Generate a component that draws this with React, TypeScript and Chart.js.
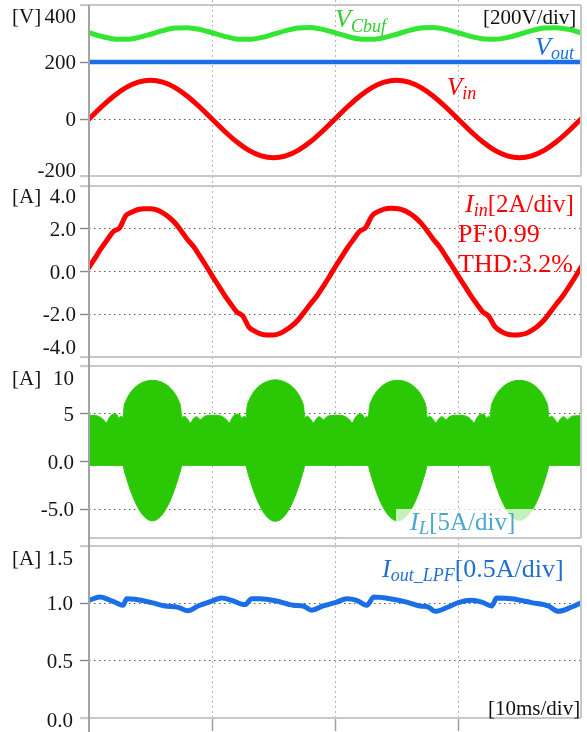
import React, { useEffect, useRef } from "react";
import { Chart, registerables } from "chart.js";

Chart.register(...registerables);

// ---------- time axis (ms) ----------
const xTicks = [0, 10, 20, 30, 40];
const t1ms = Array.from({ length: 41 }, (_, i) => i);
const tHalfMs = Array.from({ length: 81 }, (_, i) => i / 2);

// ---------- panel 1 : voltages [V] ----------
const vCbuf = [
  302.6, 289.9, 281.0, 279.4, 285.6, 297.4, 310.1, 319.0, 320.6, 314.4,
  302.6, 290.0, 281.0, 279.5, 285.5, 297.5, 310.0, 319.0, 321.0, 314.5,
  302.5, 289.8, 281.0, 279.4, 285.6, 297.4, 310.2, 319.2, 320.8, 314.4,
  302.6, 290.0, 281.2, 279.6, 285.6, 297.4, 310.0, 319.0, 320.6, 314.4,
  302.6,
];
const tVout = [0, 40];
const vOut = [200, 200];
const vIn = [
  0, 42.0, 79.9, 110.0, 129.3, 136, 129.3, 110.0, 79.9, 42.0,
  0, -42.0, -79.9, -110.0, -129.3, -136, -129.3, -110.0, -79.9, -42.0,
  0, 42.0, 79.9, 110.0, 129.3, 136, 129.3, 110.0, 79.9, 42.0,
  0, -42.0, -79.9, -110.0, -129.3, -136, -129.3, -110.0, -79.9, -42.0,
  0,
];

// ---------- panel 2 : input current [A] ----------
const iIn = [
  0.19, 0.64, 1.09, 1.5, 1.88, 2.05, 2.62, 2.78, 2.9, 2.94,
  2.94, 2.88, 2.74, 2.54, 2.27, 1.9, 1.5, 1.17, 0.73, 0.28,
  -0.19, -0.64, -1.09, -1.5, -1.88, -2.08, -2.6, -2.8, -2.93, -2.97,
  -2.97, -2.9, -2.74, -2.54, -2.27, -1.9, -1.52, -1.17, -0.73, -0.28,
  0.2, 0.65, 1.1, 1.5, 1.88, 2.06, 2.6, 2.8, 2.92, 2.96,
  2.95, 2.88, 2.74, 2.54, 2.26, 1.9, 1.5, 1.16, 0.72, 0.27,
  -0.19, -0.64, -1.09, -1.5, -1.88, -2.1, -2.58, -2.8, -2.93, -2.97,
  -2.96, -2.9, -2.75, -2.55, -2.27, -1.9, -1.52, -1.16, -0.73, -0.28,
  0.2,
];

// ---------- panel 3 : inductor current envelope [A] ----------
const tL = [
  0, 0.15, 0.85, 1.2, 1.4, 1.65, 1.95, 2.2, 2.45, 2.6,
  2.75, 2.85, 3.05, 3.35, 3.75, 4.25, 4.75, 5.15, 5.55, 6.05, 6.55, 6.95, 7.25, 7.45, 7.55,
  7.75, 8.0, 8.25, 8.5, 8.75, 9.05, 9.4, 10.15, 10.85, 11.2, 11.4, 11.65, 11.95, 12.2, 12.45, 12.6,
  12.75, 12.85, 13.05, 13.35, 13.75, 14.25, 14.75, 15.15, 15.55, 16.05, 16.55, 16.95, 17.25, 17.45, 17.55,
  17.75, 18.0, 18.25, 18.5, 18.75, 19.05, 19.4, 20.15, 20.85, 21.2, 21.4, 21.65, 21.95, 22.2, 22.42, 22.57,
  22.7, 22.8, 23.0, 23.3, 23.7, 24.2, 24.7, 25.1, 25.5, 26.0, 26.5, 26.9, 27.2, 27.4, 27.5,
  27.7, 27.95, 28.2, 28.45, 28.7, 29.0, 29.35, 30.05, 30.75, 31.1, 31.3, 31.55, 31.85, 32.1, 32.33, 32.47,
  32.6, 32.7, 32.9, 33.2, 33.6, 34.1, 34.6, 35.0, 35.4, 35.9, 36.4, 36.8, 37.1, 37.3, 37.4,
  37.6, 37.85, 38.1, 38.35, 38.6, 38.9, 39.25, 40,
];
const iLUp = [
  4.8, 4.85, 4.7, 4.35, 4.05, 4.6, 4.95, 4.95, 4.55, 4.75,
  4.6, 5.72, 6.49, 7.18, 7.77, 8.22, 8.45, 8.5, 8.45, 8.22, 7.77, 7.18, 6.49, 5.72, 4.6,
  4.75, 4.45, 4.05, 4.5, 4.7, 4.4, 4.75, 4.85, 4.7, 4.35, 4.05, 4.6, 4.95, 4.95, 4.55, 4.75,
  4.6, 5.73, 6.51, 7.21, 7.81, 8.26, 8.49, 8.55, 8.49, 8.26, 7.81, 7.21, 6.51, 5.73, 4.6,
  4.75, 4.45, 4.05, 4.5, 4.7, 4.4, 4.75, 4.85, 4.7, 4.35, 4.05, 4.6, 4.95, 4.95, 4.55, 4.75,
  4.6, 5.72, 6.49, 7.18, 7.77, 8.22, 8.45, 8.5, 8.45, 8.22, 7.77, 7.18, 6.49, 5.72, 4.6,
  4.75, 4.45, 4.05, 4.5, 4.7, 4.4, 4.75, 4.85, 4.7, 4.35, 4.05, 4.6, 4.95, 4.95, 4.55, 4.75,
  4.6, 5.72, 6.49, 7.18, 7.77, 8.22, 8.45, 8.5, 8.45, 8.22, 7.77, 7.18, 6.49, 5.72, 4.6,
  4.75, 4.45, 4.05, 4.5, 4.7, 4.4, 4.75, 4.8,
];
const iLLo = [
  -0.4, -0.4, -0.4, -0.4, -0.4, -0.4, -0.4, -0.4, -0.4, -0.4,
  -0.4, -0.88, -1.76, -2.94, -4.23, -5.38, -6.04, -6.2, -6.04, -5.38, -4.23, -2.94, -1.76, -0.88, -0.4,
  -0.4, -0.4, -0.4, -0.4, -0.4, -0.4, -0.4, -0.4, -0.4, -0.4, -0.4, -0.4, -0.4, -0.4, -0.4, -0.4,
  -0.4, -0.88, -1.77, -2.96, -4.26, -5.43, -6.09, -6.25, -6.09, -5.43, -4.26, -2.96, -1.77, -0.88, -0.4,
  -0.4, -0.4, -0.4, -0.4, -0.4, -0.4, -0.4, -0.4, -0.4, -0.4, -0.4, -0.4, -0.4, -0.4, -0.4, -0.4,
  -0.4, -0.88, -1.76, -2.94, -4.23, -5.38, -6.04, -6.2, -6.04, -5.38, -4.23, -2.94, -1.76, -0.88, -0.4,
  -0.4, -0.4, -0.4, -0.4, -0.4, -0.4, -0.4, -0.4, -0.4, -0.4, -0.4, -0.4, -0.4, -0.4, -0.4, -0.4,
  -0.4, -0.87, -1.75, -2.92, -4.2, -5.34, -5.99, -6.15, -5.99, -5.34, -4.2, -2.92, -1.75, -0.87, -0.4,
  -0.4, -0.4, -0.4, -0.4, -0.4, -0.4, -0.4, -0.4,
];

// ---------- panel 4 : filtered output current [A] ----------
const tOut = [
  0, 0.89, 1.54, 2.36, 2.76, 3.07, 3.74, 5.1, 6.18, 7.24, 8.05, 8.86, 9.98, 10.79, 11.6, 12.68,
  13.23, 13.9, 15.26, 16.59, 17.4, 18.1, 19.02, 20.14, 20.95, 21.76, 22.58, 23.17, 24.47, 25.83,
  26.91, 27.59, 28.13, 29.21, 30.02, 31.11, 31.93, 32.74, 33.15, 34.37, 35.99, 37.34, 38.15, 39.24, 40,
];
const iOut = [
  1.026, 1.055, 1.035, 0.997, 0.983, 1.04, 1.035, 1.006, 0.977, 0.965, 0.936, 0.977, 1.02, 1.046, 1.026, 0.989,
  1.04, 1.04, 1.02, 0.983, 0.977, 0.94, 0.977, 1.011, 1.04, 1.026, 0.983, 1.055, 1.04, 1.011,
  0.977, 0.968, 0.93, 0.968, 1.006, 1.026, 1.011, 0.977, 1.046, 1.04, 1.006, 0.977, 0.93, 0.968, 1.006,
];

// ---------- axis ticks / labels ----------
const p1Ticks = [-200, 0, 200, 400];
const p1Labels = ["-200", "0", "200", "400"];
const p2Ticks = [-4, -2, 0, 2, 4];
const p2Labels = ["-4.0", "-2.0", "0.0", "2.0", "4.0"];
const p3Ticks = [-5, 0, 5, 10];
const p3Labels = ["-5.0", "0.0", "5", "10"];
const p4Ticks = [0, 0.5, 1, 1.5];
const p4Labels = ["0.0", "0.5", "1.0", "1.5"];

const SERIF = '"Liberation Serif", "Times New Roman", serif';

type Part = { text: string; size: number; italic?: boolean; dy?: number };
type Txt = { parts: Part[]; x: number; y: number; color: string };
type Panel = {
  top: number;
  height: number;
  padTop: number;
  padBottom: number;
  yMin: number;
  yMax: number;
  yTicks: number[];
  yLabels: string[];
  unit: string;
  topOff: number;
  botOff: number;
  labelRight: number;
  axisTop: number;
  xTickLen: number;
  xTickSolid: boolean;
  datasets: any[];
  texts: Txt[];
  box?: { x: number; y: number; w: number; h: number };
};

const pts = (xs: number[], ys: number[]) => xs.map((x, i) => ({ x, y: ys[i] }));

const lineDs = (xs: number[], ys: number[], color: string, width: number) => ({
  data: pts(xs, ys),
  borderColor: color,
  borderWidth: width,
  pointRadius: 0,
  fill: false,
  cubicInterpolationMode: "monotone",
  borderJoinStyle: "round",
  borderCapStyle: "round",
});

const panels: Panel[] = [
  {
    top: 0, height: 181, padTop: 5, padBottom: 5,
    yMin: -200, yMax: 400, yTicks: p1Ticks, yLabels: p1Labels, unit: "[V]",
    topOff: 18, botOff: 1, labelRight: 76, axisTop: 5, xTickLen: 5, xTickSolid: false,
    datasets: [
      lineDs(t1ms, vCbuf, "#33e633", 5),
      lineDs(tVout, vOut, "#1a6ee8", 4.5),
      lineDs(t1ms, vIn, "#ff0000", 5),
    ],
    texts: [
      { x: 335, y: 27, color: "#33cc33", parts: [{ text: "V", size: 26, italic: true }, { text: "Cbuf", size: 18, italic: true, dy: 5 }] },
      { x: 483, y: 24, color: "#111111", parts: [{ text: "[200V/div]", size: 21 }] },
      { x: 535, y: 55, color: "#1a6fd8", parts: [{ text: "V", size: 26, italic: true }, { text: "out", size: 18, italic: true, dy: 4 }] },
      { x: 447, y: 95, color: "#ff0000", parts: [{ text: "V", size: 25, italic: true }, { text: "in", size: 18, italic: true, dy: 4 }] },
    ],
  },
  {
    top: 181, height: 181, padTop: 5, padBottom: 5,
    yMin: -4, yMax: 4, yTicks: p2Ticks, yLabels: p2Labels, unit: "[A]",
    topOff: 17, botOff: -3, labelRight: 76, axisTop: 0, xTickLen: 5, xTickSolid: false,
    datasets: [lineDs(tHalfMs, iIn, "#ff0000", 5)],
    texts: [
      { x: 465, y: 31, color: "#ff0000", parts: [{ text: "I", size: 26, italic: true }, { text: "in", size: 18, italic: true, dy: 4 }, { text: "[2A/div]", size: 25 }] },
      { x: 458, y: 61, color: "#ff0000", parts: [{ text: "PF:0.99", size: 26 }] },
      { x: 458, y: 91, color: "#ff0000", parts: [{ text: "THD:3.2%", size: 26 }] },
    ],
  },
  {
    top: 362, height: 181, padTop: 4, padBottom: 5,
    yMin: -8, yMax: 10, yTicks: p3Ticks, yLabels: p3Labels, unit: "[A]",
    topOff: 19, botOff: 7, labelRight: 74, axisTop: 0, xTickLen: 5, xTickSolid: false,
    datasets: [
      {
        data: pts(tL, iLUp),
        borderColor: "#2bc905",
        backgroundColor: "#2bc905",
        borderWidth: 1,
        pointRadius: 0,
        fill: "+1",
        cubicInterpolationMode: "monotone",
      },
      {
        data: pts(tL, iLLo),
        borderColor: "#2bc905",
        borderWidth: 1,
        pointRadius: 0,
        fill: false,
        cubicInterpolationMode: "monotone",
      },
    ],
    box: { x: 396, y: 147, w: 137, h: 29 },
    texts: [
      { x: 410, y: 168, color: "#4ba8cc", parts: [{ text: "I", size: 26, italic: true }, { text: "L", size: 19, italic: true, dy: 4 }, { text: "[5A/div]", size: 25 }] },
    ],
  },
  {
    top: 543, height: 189, padTop: 3, padBottom: 14,
    yMin: 0, yMax: 1.5, yTicks: p4Ticks, yLabels: p4Labels, unit: "[A]",
    topOff: 19, botOff: 9, labelRight: 73, axisTop: 0, xTickLen: 13, xTickSolid: true,
    datasets: [lineDs(tOut, iOut, "#1a6ee8", 5)],
    texts: [
      { x: 382, y: 34, color: "#1f70cc", parts: [{ text: "I", size: 26, italic: true }, { text: "out_LPF", size: 18, italic: true, dy: 4 }, { text: "[0.5A/div]", size: 26 }] },
      { x: 488, y: 172, color: "#111111", parts: [{ text: "[10ms/div]", size: 21 }] },
    ],
  },
];

function line(ctx: CanvasRenderingContext2D, x1: number, y1: number, x2: number, y2: number) {
  ctx.beginPath();
  ctx.moveTo(x1, y1);
  ctx.lineTo(x2, y2);
  ctx.stroke();
}

function makeDecor(cfg: Panel) {
  return {
    id: "decor",
    afterDraw(chart: any) {
      const ctx: CanvasRenderingContext2D = chart.ctx;
      const { left, right, top, bottom } = chart.chartArea;
      const ys = chart.scales.y;
      const xs = chart.scales.x;
      ctx.save();

      // vertical dotted grid continuation above the plot area (gap between panels)
      ctx.strokeStyle = "#b4b4b4";
      ctx.lineWidth = 1;
      ctx.setLineDash([2, 3]);
      if (top > 0) {
        for (const v of xTicks.slice(1, -1)) {
          const px = Math.round(xs.getPixelForValue(v)) + 0.5;
          line(ctx, px, 0, px, top);
        }
      }
      ctx.setLineDash([]);

      // label background box
      if (cfg.box) {
        ctx.fillStyle = "rgba(255,255,255,0.72)";
        ctx.fillRect(cfg.box.x, cfg.box.y, cfg.box.w, cfg.box.h);
      }

      // frame
      ctx.strokeStyle = "#c8c8c8";
      ctx.lineWidth = 2;
      const hasTopTick = cfg.yTicks.includes(cfg.yMax);
      const hasBotTick = cfg.yTicks.includes(cfg.yMin);
      line(ctx, hasTopTick ? 80 : left, top, right, top);
      line(ctx, right, top, right, bottom);
      line(ctx, hasBotTick ? 80 : left, bottom, right, bottom);
      ctx.strokeStyle = "#a4a4a4";
      line(ctx, left, cfg.axisTop, left, chart.height);

      // tick labels
      ctx.fillStyle = "#151515";
      ctx.font = `21px ${SERIF}`;
      ctx.textAlign = "right";
      ctx.textBaseline = "alphabetic";
      let topBase = 0;
      cfg.yTicks.forEach((v, i) => {
        const py = ys.getPixelForValue(v);
        let off = 7;
        if (v === cfg.yMax) off = cfg.topOff;
        else if (v === cfg.yMin) off = cfg.botOff;
        if (v === cfg.yMax) topBase = py + off;
        ctx.fillText(cfg.yLabels[i], cfg.labelRight, py + off);
      });
      ctx.textAlign = "left";
      ctx.fillText(cfg.unit, 12, topBase);

      // annotations
      for (const t of cfg.texts) {
        let x = t.x;
        ctx.fillStyle = t.color;
        for (const p of t.parts) {
          ctx.font = `${p.italic ? "italic " : ""}${p.size}px ${SERIF}`;
          ctx.fillText(p.text, x, t.y + (p.dy || 0));
          x += ctx.measureText(p.text).width;
        }
      }
      ctx.restore();
    },
  };
}

function makeChart(canvas: HTMLCanvasElement, cfg: Panel) {
  const isEdgeY = (v: number) => v === cfg.yMin || v === cfg.yMax;
  return new Chart(canvas, {
    type: "line",
    data: { datasets: cfg.datasets },
    options: {
      responsive: false,
      maintainAspectRatio: false,
      animation: false,
      events: [],
      layout: { padding: { top: cfg.padTop, bottom: cfg.padBottom, left: 0, right: 6 } },
      plugins: { legend: { display: false }, tooltip: { enabled: false } },
      elements: { point: { radius: 0 } },
      scales: {
        x: {
          type: "linear",
          min: 0,
          max: 40,
          afterBuildTicks: (s: any) => {
            s.ticks = xTicks.map((v) => ({ value: v }));
          },
          afterFit: (s: any) => {
            s.height = 0;
          },
          ticks: { display: false },
          border: { display: false, dash: [2, 3] },
          grid: {
            color: (c: any) => (c.index === 0 || c.index === xTicks.length - 1 ? "rgba(0,0,0,0)" : "#b4b4b4"),
            lineWidth: 1,
            drawTicks: true,
            tickLength: cfg.xTickLen,
            tickWidth: 1.5,
            tickColor: (c: any) =>
              c.index === 0 || c.index === xTicks.length - 1 ? "rgba(0,0,0,0)" : cfg.xTickSolid ? "#a0a0a0" : "#b4b4b4",
            tickBorderDash: cfg.xTickSolid ? [] : [2, 3],
          },
        },
        y: {
          type: "linear",
          min: cfg.yMin,
          max: cfg.yMax,
          afterBuildTicks: (s: any) => {
            s.ticks = cfg.yTicks.map((v) => ({ value: v }));
          },
          afterFit: (s: any) => {
            s.width = 89;
          },
          ticks: { display: false },
          border: { display: false, dash: [1.5, 3.5] },
          grid: {
            color: (c: any) => (c.tick && isEdgeY(c.tick.value) ? "rgba(0,0,0,0)" : "#5a5a5a"),
            lineWidth: 1,
            drawTicks: true,
            tickLength: 9,
            tickWidth: 1.5,
            tickColor: (c: any) => (c.tick && isEdgeY(c.tick.value) ? "#c8c8c8" : "#8c8c8c"),
          },
        },
      },
    } as any,
    plugins: [makeDecor(cfg)],
  });
}

function PanelChart({ cfg }: { cfg: Panel }) {
  const ref = useRef<HTMLCanvasElement>(null);
  useEffect(() => {
    if (!ref.current) return;
    const chart = makeChart(ref.current, cfg);
    return () => chart.destroy();
  }, [cfg]);
  return (
    <canvas
      ref={ref}
      width={587}
      height={cfg.height}
      style={{ position: "absolute", left: 0, top: cfg.top, width: 587, height: cfg.height, display: "block" }}
    />
  );
}

export default function App() {
  return (
    <div
      style={{
        position: "absolute",
        left: 0,
        top: 0,
        width: 587,
        height: 732,
        background: "#ffffff",
        overflow: "hidden",
      }}
    >
      {panels.map((p, i) => (
        <PanelChart key={i} cfg={p} />
      ))}
    </div>
  );
}
